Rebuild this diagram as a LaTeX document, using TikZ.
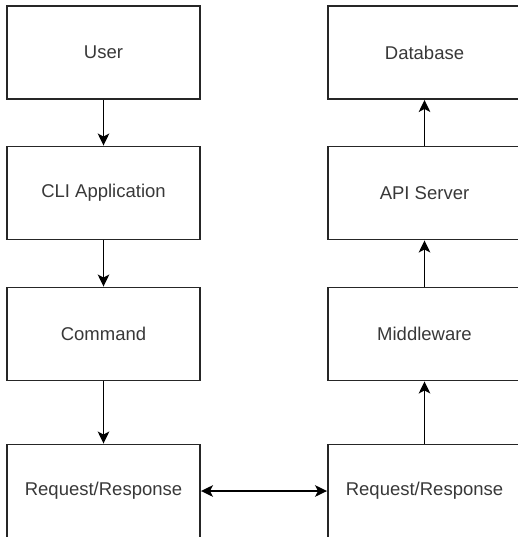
\documentclass[tikz,border=0pt]{standalone}
\usepackage{fontspec}
\setmainfont{Liberation Sans}
\usetikzlibrary{arrows.meta}
\begin{document}
\begin{tikzpicture}[x=1pt,y=-1pt,
  >={Stealth[length=12pt,width=11.5pt,inset=3pt]},
  block/.style={draw=black!85,line width=1.9pt,minimum width=193pt,minimum height=93pt,
    inner sep=0pt,font=\fontsize{18.5}{22}\selectfont,text=black!78},
  flow/.style={draw=black,line width=1.8pt,->},
  both/.style={draw=black,line width=1.8pt,<->}]
  \useasboundingbox (0,0) rectangle (517,537);
  % left column
  \node[block] (user) at (103.5,52.5) {User};
  \node[block] (cli) at (103.5,193) {CLI Application};
  \node[block] (cmd) at (103.5,334) {Command};
  \node[block] (reql) at (103.5,491) {Request/Response};
  % right column
  \node[block] (db) at (424.5,52.5) {Database};
  \node[block] (api) at (424.5,193) {API Server};
  \node[block] (mw) at (424.5,334) {Middleware};
  \node[block] (reqr) at (424.5,491) {Request/Response};
  % connectors
  \draw[flow] (user) -- (cli);
  \draw[flow] (cli) -- (cmd);
  \draw[flow] (cmd) -- (reql);
  \draw[both] (reql) -- (reqr);
  \draw[flow] (reqr) -- (mw);
  \draw[flow] (mw) -- (api);
  \draw[flow] (api) -- (db);
\end{tikzpicture}
\end{document}
